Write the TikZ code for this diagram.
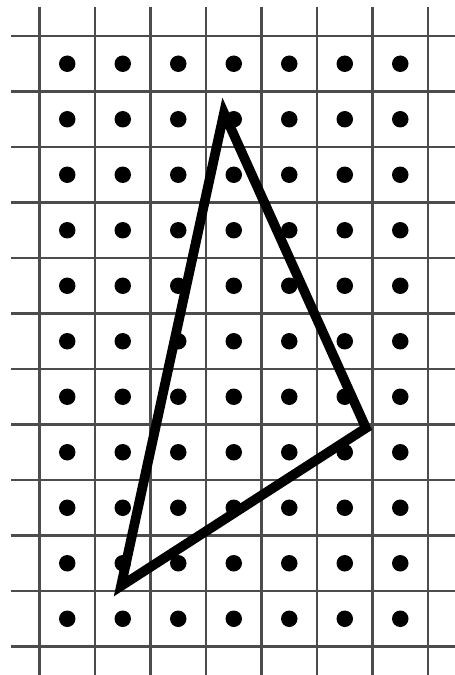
\documentclass[tikz,border=0pt]{standalone}
\usepackage{tikz}
\usetikzlibrary{positioning}

\tikzset{
  gridline/.style={draw=black!70, line width=1.2pt},
  dotmark/.style={fill=black},
  triedge/.style={draw=black, line width=5.5pt, line join=miter},
}

\begin{document}
\begin{tikzpicture}[x=0.02cm, y=-0.02cm]
  \useasboundingbox (0,0) rectangle (455,675);

  % grid
  \foreach \i in {0,...,7}
    \draw[gridline] (39.5+55.5*\i,7) -- (39.5+55.5*\i,675);
  \foreach \j in {0,...,11}
    \draw[gridline] (11,36+55.5*\j) -- (455,36+55.5*\j);

  % dots in the cells
  \foreach \i in {0,...,6}
    \foreach \j in {0,...,10}
      \fill[dotmark] (67.25+55.5*\i,63.75+55.5*\j) circle (0.165cm);

  % triangle
  \coordinate (apex) at (224,113);
  \coordinate (rcorner) at (366,428);
  \coordinate (lcorner) at (121,586);
  \draw[triedge] (apex) -- (rcorner) -- (lcorner) -- cycle;
\end{tikzpicture}
\end{document}
